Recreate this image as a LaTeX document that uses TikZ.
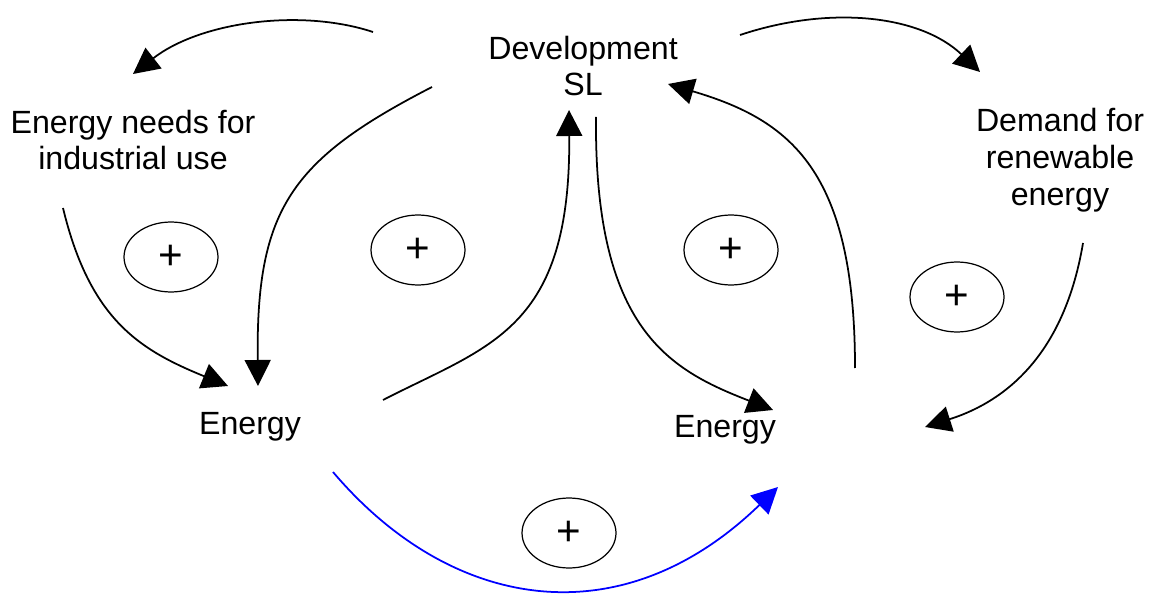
\documentclass[tikz,border=0pt]{standalone}
\usepackage{fontspec}
\setmainfont{Liberation Sans}
\usetikzlibrary{arrows.meta,shapes.geometric}
\begin{document}
\begin{tikzpicture}[x=0.02cm,y=-0.02cm,
  lbl/.style={font=\fontsize{18.3}{21}\selectfont,align=center,inner sep=0pt},
  loopsign/.style={ellipse,draw,line width=0.7pt,minimum width=1.88cm,minimum height=1.4cm,inner sep=0pt,font=\fontsize{24}{26}\selectfont},
  link/.style={line width=1pt,-{Triangle[length=0.52cm,width=0.52cm]}}]
\useasboundingbox (0,0) rectangle (1151,597);
% labels
\node[lbl] (dev) at (583,66) {Development\\SL};
\node[lbl] (ind) at (133,140) {Energy needs for\\industrial use};
\node[lbl] (dem) at (1060,160) {Demand for\\renewable\\energy};
\node[lbl] (en1) at (250,427) {Energy};
\node[lbl] (en2) at (725,430) {Energy};
% loop signs
\node[loopsign] (p1) at (171,257) {+};
\node[loopsign] (p2) at (418,250) {+};
\node[loopsign] (p3) at (731,250) {+};
\node[loopsign] (p4) at (957,297) {+};
\node[loopsign] (p5) at (569,533) {+};
% connector end points
\coordinate (a1) at (373,32);   \coordinate (b1) at (133,74);
\coordinate (a2) at (432,87);   \coordinate (b2) at (258,386);
\coordinate (a3) at (63,208);   \coordinate (b3) at (228,386);
\coordinate (a4) at (383,400);  \coordinate (b4) at (569,110);
\coordinate (a5) at (596,117);  \coordinate (b5) at (773,410);
\coordinate (a6) at (855,368);  \coordinate (b6) at (668,84);
\coordinate (a7) at (740,35);   \coordinate (b7) at (980,72);
\coordinate (a8) at (1083,243); \coordinate (b8) at (925,427);
\coordinate (a9) at (333,472);  \coordinate (b9) at (778,487);
% connectors
\draw[link] (a1) .. controls (300,8) and (200,22) .. (b1);
\draw[link] (a2) .. controls (290,160) and (256,210) .. (b2);
\draw[link] (a3) .. controls (90,320) and (140,350) .. (b3);
\draw[link] (a4) .. controls (490,345) and (571,330) .. (b4);
\draw[link] (a5) .. controls (594,330) and (670,370) .. (b5);
\draw[link] (a6) .. controls (855,170) and (790,120) .. (b6);
\draw[link] (a7) .. controls (830,5) and (920,15) .. (b7);
\draw[link] (a8) .. controls (1065,350) and (1010,400) .. (b8);
\draw[link,blue] (a9) .. controls (450,610) and (620,640) .. (b9);
\end{tikzpicture}
\end{document}
